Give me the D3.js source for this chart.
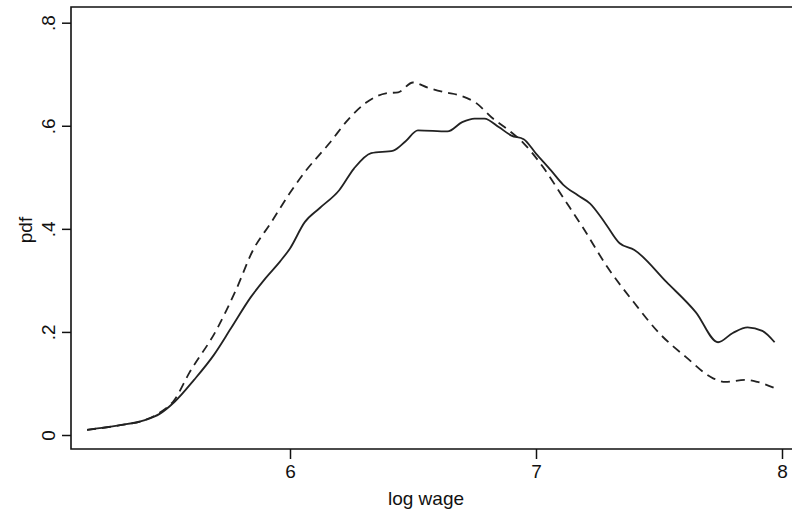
<!DOCTYPE html>
<html>
<head>
<meta charset="utf-8">
<script src="https://cdn.jsdelivr.net/npm/d3@7"></script>
<style>
  body { margin: 0; background: #fff; }
  text { font-family: "Liberation Sans Narrow", "Arial Narrow", "Liberation Sans", Arial, sans-serif; fill: #111; }
</style>
</head>
<body>
<svg id="chart"></svg>
<script>
const width = 792;
const height = 510;

// Density curves (log wage, pdf)
const solidX = [5.175, 5.31, 5.41, 5.47, 5.53, 5.61, 5.69, 5.76, 5.84, 5.90, 5.96, 6.00, 6.06, 6.12, 6.20, 6.26, 6.33, 6.42, 6.47, 6.52, 6.64, 6.70, 6.75, 6.79, 6.85, 6.90, 6.95, 7.00, 7.06, 7.11, 7.17, 7.22, 7.28, 7.34, 7.40, 7.53, 7.65, 7.74, 7.80, 7.86, 7.92, 7.97];
const solidY = [0.010, 0.019, 0.029, 0.041, 0.064, 0.107, 0.155, 0.207, 0.267, 0.304, 0.337, 0.362, 0.413, 0.440, 0.475, 0.517, 0.547, 0.552, 0.570, 0.591, 0.589, 0.607, 0.614, 0.614, 0.597, 0.581, 0.574, 0.546, 0.514, 0.486, 0.465, 0.449, 0.412, 0.372, 0.359, 0.297, 0.238, 0.180, 0.198, 0.209, 0.202, 0.180];

const dashX = [5.175, 5.31, 5.41, 5.47, 5.53, 5.59, 5.70, 5.78, 5.85, 5.92, 6.00, 6.06, 6.16, 6.24, 6.31, 6.39, 6.44, 6.50, 6.56, 6.63, 6.69, 6.76, 6.82, 6.89, 6.95, 7.03, 7.11, 7.19, 7.29, 7.40, 7.50, 7.61, 7.72, 7.77, 7.85, 7.90, 7.97];
const dashY = [0.010, 0.019, 0.029, 0.043, 0.068, 0.120, 0.203, 0.281, 0.359, 0.410, 0.470, 0.510, 0.566, 0.614, 0.645, 0.663, 0.665, 0.684, 0.674, 0.665, 0.659, 0.643, 0.616, 0.591, 0.566, 0.519, 0.461, 0.403, 0.326, 0.256, 0.198, 0.151, 0.110, 0.103, 0.107, 0.103, 0.091];

const xTicks = [6, 7, 8];
const yTicks = [0, 0.2, 0.4, 0.6, 0.8];
const yTickLabels = ["0", ".2", ".4", ".6", ".8"];

const margin = {left: 71, top: 7, bottom: 449};

const x = d3.scaleLinear().domain([6, 8]).range([290, 782]);
const y = d3.scaleLinear().domain([0, 0.8]).range([435, 22.7]);

const svg = d3.select("#chart")
    .attr("width", width)
    .attr("height", height);

// Plot frame (no visible right border)
svg.append("path")
    .attr("d", `M${width + 2},${margin.top}H${margin.left}V${margin.bottom}H${width + 2}`)
    .attr("fill", "none")
    .attr("stroke", "#111")
    .attr("stroke-width", 1.6);

// Y axis
const yAxis = svg.append("g")
    .attr("transform", `translate(${margin.left},0)`)
    .call(d3.axisLeft(y).tickValues(yTicks).tickSize(9).tickFormat((d, i) => yTickLabels[i]));
yAxis.select(".domain").remove();
yAxis.selectAll(".tick line").attr("stroke", "#111").attr("stroke-width", 1.5);
yAxis.selectAll(".tick text")
    .attr("x", 0).attr("y", 0).attr("dy", null)
    .attr("transform", "translate(-23,0) rotate(-90)")
    .attr("text-anchor", "middle")
    .attr("dominant-baseline", "central")
    .style("font-size", "19px");

// X axis
const xAxis = svg.append("g")
    .attr("transform", `translate(0,${margin.bottom})`)
    .call(d3.axisBottom(x).tickValues(xTicks).tickSize(10).tickFormat(d3.format("d")));
xAxis.select(".domain").remove();
xAxis.selectAll(".tick line").attr("stroke", "#111").attr("stroke-width", 1.5);
xAxis.selectAll(".tick text")
    .attr("y", 16).attr("dy", "0.71em")
    .style("font-size", "19px");

// Axis titles
svg.append("text")
    .attr("transform", "translate(25,230) rotate(-90)")
    .attr("text-anchor", "middle")
    .attr("dominant-baseline", "central")
    .style("font-size", "19px")
    .text("pdf");

svg.append("text")
    .attr("x", 426)
    .attr("y", 505)
    .attr("text-anchor", "middle")
    .style("font-size", "19px")
    .text("log wage");

const line = d3.line()
    .x(d => x(d[0]))
    .y(d => y(d[1]))
    .curve(d3.curveMonotoneX);

svg.append("path")
    .datum(dashX.map((v, i) => [v, dashY[i]]))
    .attr("d", line)
    .attr("fill", "none")
    .attr("stroke", "#222")
    .attr("stroke-width", 1.8)
    .attr("stroke-dasharray", "9,6");

svg.append("path")
    .datum(solidX.map((v, i) => [v, solidY[i]]))
    .attr("d", line)
    .attr("fill", "none")
    .attr("stroke", "#222")
    .attr("stroke-width", 1.8);
</script>
</body>
</html>
